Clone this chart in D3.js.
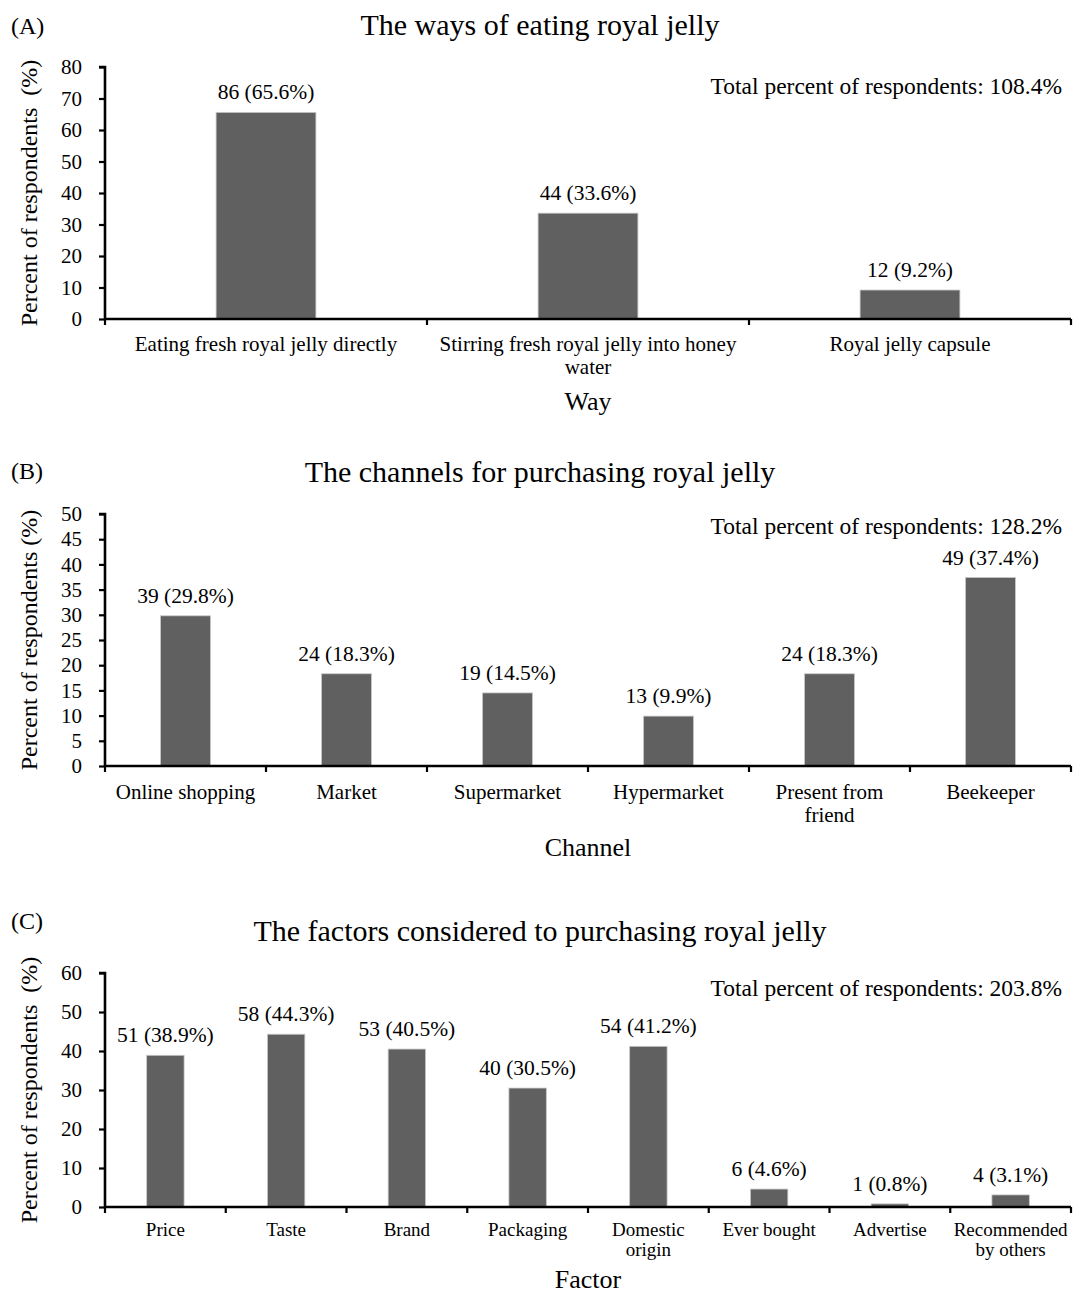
<!DOCTYPE html>
<html>
<head>
<meta charset="utf-8">
<script src="https://cdn.jsdelivr.net/npm/d3@7"></script>
<style>
  html, body { margin: 0; padding: 0; background: #fff; }
  svg { display: block; }
  text { font-family: "Liberation Serif", "Times New Roman", serif; fill: #000; }
</style>
</head>
<body>
<svg id="chart" width="1073" height="1293"></svg>
<script>
// Panel A: ways of eating royal jelly
const waysCategories = [["Eating fresh royal jelly directly"], ["Stirring fresh royal jelly into honey", "water"], ["Royal jelly capsule"]];
const waysPercent = [65.6, 33.6, 9.2];
const waysCounts = [86, 44, 12];
const waysTicks = [0, 10, 20, 30, 40, 50, 60, 70, 80];

// Panel B: purchase channels
const channelCategories = [["Online shopping"], ["Market"], ["Supermarket"], ["Hypermarket"], ["Present from", "friend"], ["Beekeeper"]];
const channelPercent = [29.8, 18.3, 14.5, 9.9, 18.3, 37.4];
const channelCounts = [39, 24, 19, 13, 24, 49];
const channelTicks = [0, 5, 10, 15, 20, 25, 30, 35, 40, 45, 50];

// Panel C: factors considered when purchasing
const factorCategories = [["Price"], ["Taste"], ["Brand"], ["Packaging"], ["Domestic", "origin"], ["Ever bought"], ["Advertise"], ["Recommended", "by others"]];
const factorPercent = [38.9, 44.3, 40.5, 30.5, 41.2, 4.6, 0.8, 3.1];
const factorCounts = [51, 58, 53, 40, 54, 6, 1, 4];
const factorTicks = [0, 10, 20, 30, 40, 50, 60];

const panelLetters = ["(A)", "(B)", "(C)"];
const panelTitles = ["The ways of eating royal jelly", "The channels for purchasing royal jelly", "The factors considered to purchasing royal jelly"];
const yAxisTitles = ["Percent of respondents  (%)", "Percent of respondents (%)", "Percent of respondents  (%)"];
const xAxisTitles = ["Way", "Channel", "Factor"];
const totalPercents = [108.4, 128.2, 203.8];

const svg = d3.select("#chart");
const BAR = "#606060";

const panels = [
  { cats: waysCategories, pct: waysPercent, cnt: waysCounts, ticks: waysTicks,
    top: 67, bottom: 319, letterY: 34, titleY: 35, totalY: 94, catY: 351, catFs: 21, catLH: 23, xTitleY: 410 },
  { cats: channelCategories, pct: channelPercent, cnt: channelCounts, ticks: channelTicks,
    top: 514, bottom: 766, letterY: 479, titleY: 482, totalY: 534, catY: 799, catFs: 21, catLH: 23, xTitleY: 856 },
  { cats: factorCategories, pct: factorPercent, cnt: factorCounts, ticks: factorTicks,
    top: 973, bottom: 1207, letterY: 929, titleY: 941, totalY: 996, catY: 1236, catFs: 19, catLH: 20, xTitleY: 1288 }
];

const left = 105, right = 1071;

panels.forEach((p, i) => {
  const g = svg.append("g");
  const idx = p.cats.map((_, k) => k);

  const x = d3.scaleBand().domain(idx).range([left, right]).paddingInner(0.69).paddingOuter(0.345);
  const y = d3.scaleLinear().domain([0, d3.max(p.ticks)]).range([p.bottom, p.top]);

  // bars
  g.selectAll("rect.bar").data(p.pct).join("rect")
    .attr("class", "bar")
    .attr("x", (d, k) => x(k))
    .attr("width", x.bandwidth())
    .attr("y", d => y(d))
    .attr("height", d => y(0) - y(d))
    .attr("fill", BAR)
    .attr("stroke", "#c8c8c8")
    .attr("stroke-width", 0.8);

  // value labels
  g.selectAll("text.val").data(p.pct).join("text")
    .attr("class", "val")
    .attr("x", (d, k) => x(k) + x.bandwidth() / 2)
    .attr("y", d => y(d) - 13)
    .attr("text-anchor", "middle")
    .style("font-size", "21.5px")
    .text((d, k) => `${p.cnt[k]} (${d.toFixed(1)}%)`);

  // y axis
  const yAxis = d3.axisLeft(y).tickValues(p.ticks).tickSize(6).tickPadding(17).tickFormat(d3.format("d"));
  const ya = g.append("g").attr("transform", `translate(${left},0)`).call(yAxis);
  ya.select(".domain").attr("stroke", "#000").attr("stroke-width", 2.6).attr("d", `M-6,${p.top}H0V${p.bottom}`);
  ya.selectAll(".tick line").attr("stroke", "#000").attr("stroke-width", 2.2);
  ya.selectAll(".tick text").style("font-size", "21px").style("font-family", "Liberation Serif");

  // x axis with ticks on the category boundaries
  const step = x.step();
  const bounds = d3.range(p.cats.length + 1).map(k => left + k * step);
  const xa = g.append("g");
  xa.append("line").attr("x1", left).attr("x2", right).attr("y1", p.bottom).attr("y2", p.bottom)
    .attr("stroke", "#000").attr("stroke-width", 2.6);
  xa.selectAll("line.tk").data(bounds).join("line").attr("class", "tk")
    .attr("x1", d => d).attr("x2", d => d).attr("y1", p.bottom).attr("y2", p.bottom + 6)
    .attr("stroke", "#000").attr("stroke-width", 2.2);

  // category labels
  const cl = g.selectAll("text.cat").data(p.cats).join("text")
    .attr("class", "cat")
    .attr("text-anchor", "middle")
    .style("font-size", p.catFs + "px")
    .attr("y", p.catY);
  cl.each(function(lines, k) {
    d3.select(this).selectAll("tspan").data(lines).join("tspan")
      .attr("x", x(k) + x.bandwidth() / 2)
      .attr("dy", (d, j) => j === 0 ? 0 : p.catLH)
      .text(d => d);
  });

  // panel letter and title
  g.append("text").attr("x", 11).attr("y", p.letterY).style("font-size", "24px").text(panelLetters[i]);
  g.append("text").attr("x", 540).attr("y", p.titleY).attr("text-anchor", "middle")
    .style("font-size", "30px").text(panelTitles[i]);

  // total note
  g.append("text").attr("x", 1062).attr("y", p.totalY).attr("text-anchor", "end")
    .style("font-size", "23.5px").text(`Total percent of respondents: ${totalPercents[i]}%`);

  // axis titles
  g.append("text")
    .attr("transform", `translate(37,${(p.top + p.bottom) / 2}) rotate(-90)`)
    .attr("text-anchor", "middle")
    .style("font-size", "24px")
    .style("white-space", "pre")
    .text(yAxisTitles[i]);
  g.append("text").attr("x", 588).attr("y", p.xTitleY).attr("text-anchor", "middle")
    .style("font-size", "26px").text(xAxisTitles[i]);
});
</script>
</body>
</html>
